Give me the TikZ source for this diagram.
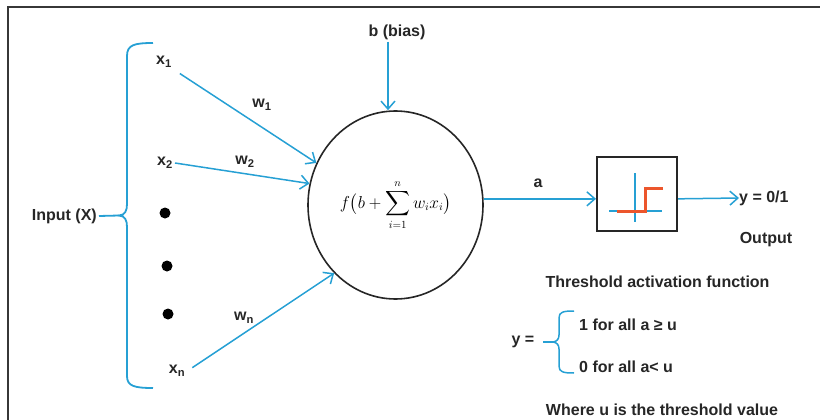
\documentclass[tikz,border=0pt]{standalone}
\usepackage{amsmath}
\usepackage{fontspec}
\setmainfont{Liberation Sans}
\usepackage{xcolor}
\usetikzlibrary{arrows.meta, shapes.geometric, positioning, calc}

\definecolor{linkblue}{RGB}{38,160,212}
\definecolor{steporange}{RGB}{236,86,44}
\definecolor{framegray}{RGB}{55,55,55}

\begin{document}
\begin{tikzpicture}[x=1pt, y=-1pt,
        label/.style={font={\fontsize{16}{18}\selectfont\bfseries}, text=black!85, inner sep=2pt},
        neuron/.style={ellipse, draw=black!85, line width=1.6pt, minimum width=175pt, minimum height=188pt, inner sep=0pt},
        actbox/.style={rectangle, draw=black!85, line width=2pt, minimum width=80pt, minimum height=74pt},
        link/.style={draw=linkblue, line width=1.5pt, -{Straight Barb[length=8pt, width=14pt, line width=1.5pt]}},
        brace/.style={draw=linkblue, line width=1.8pt},
        dot/.style={circle, fill=black, minimum size=11pt, inner sep=0pt}
    ]
        \useasboundingbox (0,0) rectangle (820,420);
        % Frame
        \draw[framegray, line width=2.5pt] (8,440) -- (8,7) -- (840,7);
        % Neuron
        \node (neuron) [neuron] at (395.5,205) {\fontsize{16}{18}\selectfont$\displaystyle f\bigl(b+\sum_{i=1}^{n} w_i x_i\bigr)$};
        \node (bias) [label] at (397,32) {b (bias)};
        % Inputs
        \node (x1) [label] at (164,62) {x\textsubscript{1}};
        \node (x2) [label] at (165,163) {x\textsubscript{2}};
        \node (d1) [dot] at (165,213) {};
        \node (d2) [dot] at (167,266) {};
        \node (d3) [dot] at (168,314) {};
        \node (xn) [label] at (177,371) {x\textsubscript{n}};
        \node (input) [label, anchor=east] at (99,216) {Input (X)};
        % Weights
        \node (w1) [label] at (262,105) {w\textsubscript{1}};
        \node (w2) [label] at (245,162) {w\textsubscript{2}};
        \node (wn) [label] at (244,318) {w\textsubscript{n}};
        % Input brace
        \draw[brace] (153,43) .. controls (134,43) and (127,45) .. (127,56) -- (127,204)
            .. controls (127,211) and (125,215) .. (119,215.5)
            .. controls (125,216) and (127,220) .. (127,227) -- (127,376)
            .. controls (127,386) and (134,388) .. (153,388);
        \draw[brace] (input.east) -- (119,215.5);
        % Input links
        \draw[link, shorten <=7pt] (x1.south east) -- (neuron.152);
        \draw[link] (x2.east) -- (neuron.166);
        \draw[link, shorten <=6pt] (xn.east) -- (neuron.228);
        \draw[link] (bias.south -| 388,0) -- (neuron.north -| 388,0);
        % Activation
        \node (thresh) [actbox] at (637,194) {};
        \draw[linkblue, line width=1.5pt] (635,173) -- (635,222);
        \draw[linkblue, line width=1.5pt] (609,211) -- (662,211);
        \draw[steporange, line width=3pt] (617,211) -- (645,211) -- (645,188) -- (663,188);
        \node (a) [label] at (538,183) {a};
        \draw[link] (neuron.4) -- (neuron.4 -| thresh.west);
        \node (yout) [label, anchor=west, inner sep=0pt] at (739,198) {y = 0/1};
        \draw[link] (neuron.4 -| thresh.east) -- (yout.west);
        \node (output) [label] at (766,240) {Output};
        % Threshold rule
        \node (title) [label] at (657.5,282) {Threshold activation function};
        \node (yeq) [label] at (523,342) {y =};
        \node (case1) [label, anchor=west] at (577,325) {1 for all a ≥ u};
        \node (case0) [label, anchor=west] at (577,367) {0 for all a< u};
        \draw[brace, line width=1.5pt] (574,311) .. controls (563,311) and (559,312) .. (559,318) -- (559,335)
            .. controls (559,339) and (557,341.5) .. (553,342)
            .. controls (557,342.5) and (559,345) .. (559,349) -- (559,366)
            .. controls (559,372) and (563,373) .. (574,373);
        \draw[brace, line width=1.5pt] (543,342) -- (553,342);
        \node (where) [label] at (662,410) {Where u is the threshold value};
    \end{tikzpicture}
\end{document}
